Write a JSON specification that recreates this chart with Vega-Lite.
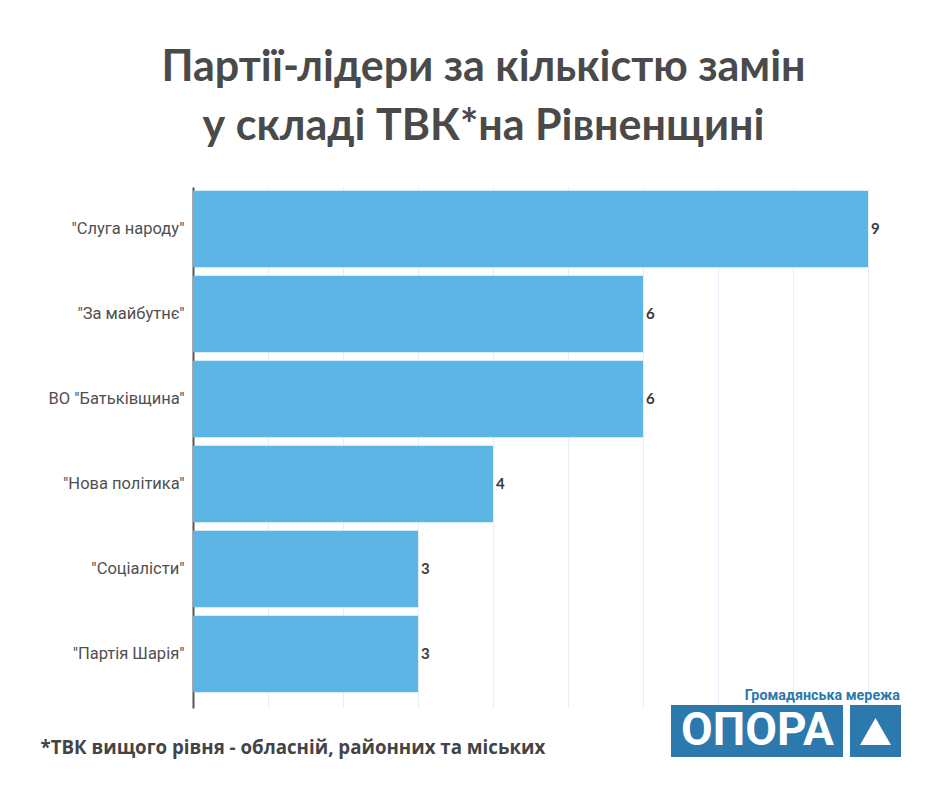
{
  "$schema": "https://vega.github.io/schema/vega-lite/v6.json",
  "width": 675,
  "height": 521,
  "autosize": {"type": "none"},
  "padding": {"left": 193, "top": 187, "right": 72, "bottom": 80},
  "background": "white",
  "title": {
    "text": ["Партії-лідери за кількістю замін", "у складі ТВК*на Рівненщині"],
    "font": "Lato",
    "fontSize": 43,
    "fontWeight": "bold",
    "color": "#4a4a4a",
    "lineHeight": 59,
    "anchor": "middle",
    "dx": -47,
    "offset": 38
  },
  "config": {"view": {"stroke": null}},
  "datasets": {
    "parties": [
      {"party": "\"Слуга народу\"", "count": 9},
      {"party": "\"За майбутнє\"", "count": 6},
      {"party": "ВО \"Батьківщина\"", "count": 6},
      {"party": "\"Нова політика\"", "count": 4},
      {"party": "\"Соціалісти\"", "count": 3},
      {"party": "\"Партія Шарія\"", "count": 3}
    ],
    "logo": [
      {"brand": "ОПОРА", "network": "Громадянська мережа"}
    ]
  },
  "layer": [
    {
      "data": {"name": "parties"},
      "encoding": {
        "y": {
          "field": "party",
          "type": "nominal",
          "sort": null,
          "scale": {"paddingInner": 0.1, "paddingOuter": 0.115, "align": 0.19},
          "axis": {
            "title": null,
            "domainColor": "#555555",
            "domainWidth": 2,
            "ticks": false,
            "labelFont": "Roboto",
            "labelFontSize": 16.5,
            "labelColor": "#505050",
            "labelPadding": 9
          }
        },
        "x": {
          "field": "count",
          "type": "quantitative",
          "scale": {"domain": [0, 9], "nice": false},
          "axis": {
            "title": "*ТВК вищого рівня - обласній, районних та міських",
            "titleFont": "Open Sans",
            "titleFontSize": 18.7,
            "titleFontWeight": "bold",
            "titleColor": "#444444",
            "titleAnchor": "start",
            "titleAlign": "left",
            "titleBaseline": "alphabetic",
            "titleX": -153,
            "titleY": 45,
            "labels": false,
            "ticks": false,
            "domain": false,
            "grid": true,
            "gridColor": "#e4eff9",
            "gridWidth": 1,
            "values": [0, 1, 2, 3, 4, 5, 6, 7, 8, 9]
          }
        }
      },
      "layer": [
        {"mark": {"type": "bar", "color": "#5db5e5"}},
        {
          "mark": {"type": "text", "align": "left", "baseline": "middle", "dx": 3, "font": "Lato", "fontSize": 15, "fontWeight": "bold", "color": "#3a3a3a"},
          "encoding": {"text": {"field": "count", "type": "quantitative"}}
        }
      ]
    },
    {
      "data": {"name": "logo"},
      "layer": [
        {
          "mark": {"type": "rect", "color": "#2b79ad"},
          "encoding": {
            "x": {"datum": 6.373, "type": "quantitative", "scale": {"domain": [0, 9], "nice": false}},
            "x2": {"datum": 8.667},
            "y": {"datum": 3, "type": "quantitative", "scale": {"domain": [0, 521], "nice": false}, "axis": null},
            "y2": {"datum": -49}
          }
        },
        {
          "mark": {"type": "rect", "color": "#2b79ad"},
          "encoding": {
            "x": {"datum": 8.76, "type": "quantitative"},
            "x2": {"datum": 9.44},
            "y": {"datum": 3, "type": "quantitative", "axis": null},
            "y2": {"datum": -49}
          }
        },
        {
          "mark": {"type": "text", "align": "center", "baseline": "middle", "font": "Roboto", "fontSize": 46, "fontWeight": "bold", "color": "white"},
          "encoding": {
            "x": {"datum": 7.527, "type": "quantitative"},
            "y": {"datum": -23, "type": "quantitative", "axis": null},
            "text": {"field": "brand"}
          }
        },
        {
          "mark": {"type": "point", "shape": "triangle-up", "filled": true, "color": "white", "opacity": 1, "size": 960},
          "encoding": {
            "x": {"datum": 9.1, "type": "quantitative"},
            "y": {"datum": -23.5, "type": "quantitative", "axis": null}
          }
        },
        {
          "mark": {"type": "text", "align": "right", "baseline": "alphabetic", "font": "Roboto", "fontSize": 14.3, "fontWeight": "bold", "color": "#2b79ad"},
          "encoding": {
            "x": {"datum": 9.427, "type": "quantitative"},
            "y": {"datum": 8, "type": "quantitative", "axis": null},
            "text": {"field": "network"}
          }
        }
      ]
    }
  ],
  "resolve": {"scale": {"y": "independent"}}
}
